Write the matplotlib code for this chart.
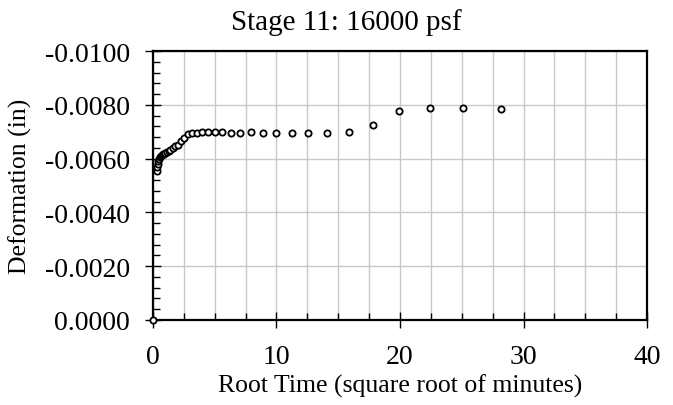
import matplotlib
matplotlib.use("Agg")
import matplotlib.pyplot as plt
from matplotlib.ticker import MultipleLocator, FormatStrFormatter

# root time (sqrt of minutes) and deformation (in)
root_time = [0.0, 0.316, 0.355, 0.398, 0.447, 0.501, 0.562, 0.631, 0.708, 0.794, 0.891,
             1.000, 1.122, 1.259, 1.413, 1.585, 1.778, 1.995, 2.239, 2.512, 2.818,
             3.162, 3.548, 3.981, 4.467, 5.012, 5.623, 6.310, 7.079, 7.943, 8.913,
             10.00, 11.22, 12.59, 14.13, 15.85, 17.78, 19.95, 22.39, 25.12, 28.18]
deformation = [0.0, -0.00555, -0.00570, -0.00580, -0.00590, -0.00600, -0.00607, -0.00610,
               -0.00613, -0.00616, -0.00618, -0.00620, -0.00623, -0.00627, -0.00632,
               -0.00638, -0.00645, -0.00652, -0.00665, -0.00677, -0.00692, -0.00695,
               -0.00695, -0.00698, -0.00699, -0.00700, -0.00700, -0.00696, -0.00697,
               -0.00698, -0.00695, -0.00695, -0.00695, -0.00694, -0.00694, -0.00700,
               -0.00726, -0.00777, -0.00789, -0.00789, -0.00783]

title = "Stage 11: 16000 psf"
xlabel = "Root Time (square root of minutes)"
ylabel = "Deformation (in)"

plt.rcParams['font.family'] = ['Liberation Serif', 'DejaVu Serif']

fig = plt.figure(figsize=(6.73, 4.06), dpi=100)
ax = fig.add_axes([0.2273, 0.2094, 0.7341, 0.6625])

ax.plot(root_time, deformation, linestyle='none', marker='o', markersize=4.5,
        markerfacecolor='white', markeredgecolor='black', markeredgewidth=1.3,
        clip_on=False, zorder=3)

ax.set_xlim(0, 40)
ax.set_ylim(0, -0.01)

ax.xaxis.set_major_locator(MultipleLocator(10))
ax.xaxis.set_minor_locator(MultipleLocator(2.5))
ax.yaxis.set_major_locator(MultipleLocator(0.002))
ax.yaxis.set_minor_locator(MultipleLocator(0.0004))
ax.yaxis.set_major_formatter(FormatStrFormatter('%.4f'))

ax.grid(True, which='both', axis='x', color='#c8c8c8', linewidth=1)
ax.grid(True, which='major', axis='y', color='#c8c8c8', linewidth=1)
ax.set_axisbelow(True)

for s in ax.spines.values():
    s.set_linewidth(1.6)

ax.tick_params(which='major', direction='inout', length=11, width=1, labelsize=20,
               top=False, right=False)
ax.tick_params(which='minor', direction='in', length=5, width=1, top=False, right=False)
ax.tick_params(axis='x', which='major', pad=12)
ax.tick_params(axis='y', which='major', pad=11)

# title is centred on the whole chart, not on the plot area
fig.text(0.515, 0.926, title, fontsize=21, ha='center', va='baseline')
ax.set_xlabel(xlabel, fontsize=18.5, labelpad=3)
ax.set_ylabel(ylabel, fontsize=18.5, labelpad=9)

fig.savefig("out.png", dpi=100)
